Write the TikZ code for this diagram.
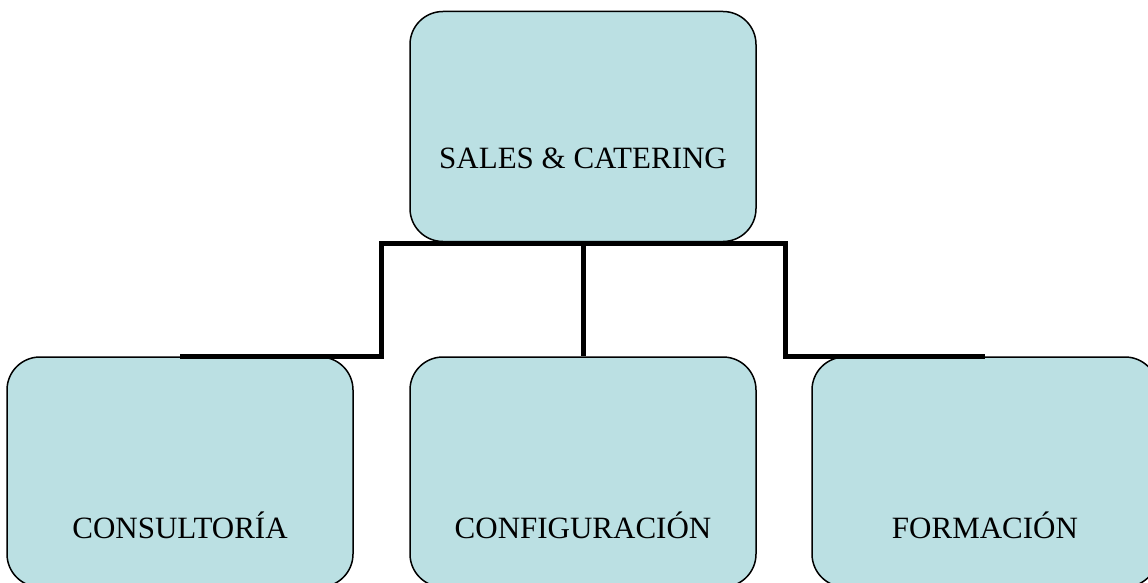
\documentclass[tikz,border=0pt]{standalone}
\usepackage{fontspec}
\setmainfont{Liberation Serif}
\definecolor{boxfill}{HTML}{BBE0E3}
\begin{document}
\begin{tikzpicture}[x=1pt,y=-1pt,
  orgbox/.style={draw=black, line width=1.5pt, fill=boxfill, rounded corners=33pt,
    minimum width=346pt, minimum height=230pt, inner sep=0pt, text depth=0pt,
    font=\fontsize{31}{36}\selectfont},
  topbox/.style={orgbox, text height=83pt},
  lowbox/.style={orgbox, text height=132pt},
  conn/.style={draw=black, line width=5pt}]
\useasboundingbox (0,0) rectangle (1148,583);
\node[topbox] (top) at (583,126.5) {SALES \& CATERING};
\node[lowbox] (cons) at (180,472) {CONSULTORÍA};
\node[lowbox] (conf) at (583,472) {CONFIGURACIÓN};
\node[lowbox] (form) at (985,472) {FORMACIÓN};
\coordinate (bar) at ([yshift=-2pt]top.south);
\coordinate (jl) at (381.5,243);
\coordinate (jr) at (785,243);
\draw[conn] (cons.north) -| (jl) -- (jr) |- (form.north);
\draw[conn] (bar) -- (conf.north);
\end{tikzpicture}
\end{document}
